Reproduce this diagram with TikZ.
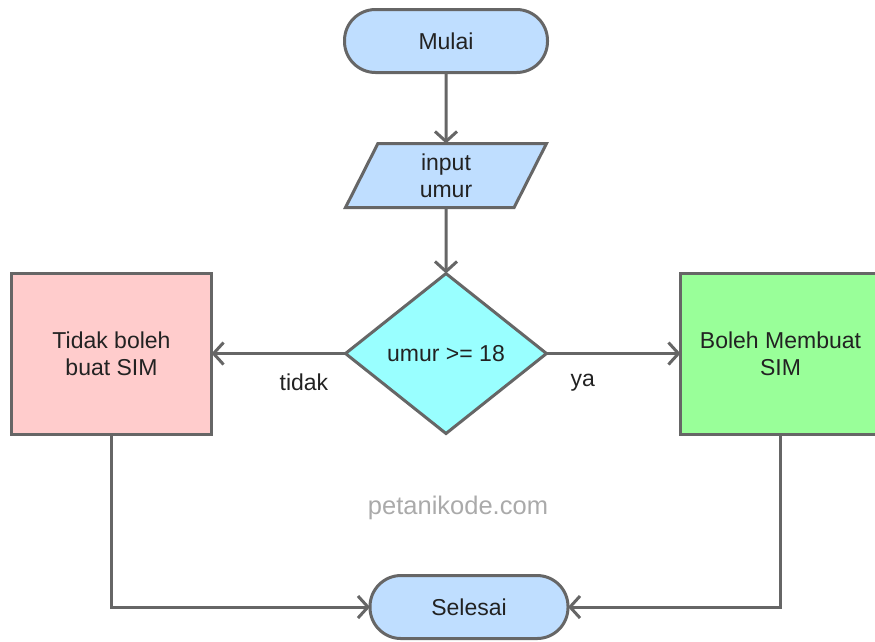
\documentclass[tikz,border=0pt]{standalone}
\usepackage{fontspec}
\setmainfont{Liberation Sans}
\usetikzlibrary{positioning,arrows.meta,shapes.geometric}

\definecolor{termBlue}{RGB}{191,222,255}
\definecolor{decCyan}{RGB}{153,255,255}
\definecolor{noPink}{RGB}{255,204,204}
\definecolor{yesGreen}{RGB}{153,255,153}
\definecolor{lineGray}{RGB}{102,102,102}
\definecolor{txtDark}{RGB}{34,34,34}
\definecolor{markGray}{RGB}{170,170,170}

\begin{document}
\begin{tikzpicture}[
  x=1pt, y=1pt,
  font=\fontsize{23}{27}\selectfont,
  line width=3pt,
  base/.style={
    draw=lineGray, text=txtDark, align=center,
    inner sep=3pt, outer sep=0pt
  },
  term/.style={
    base, rectangle, rounded corners=31pt,
    minimum width=203pt, minimum height=63pt, fill=termBlue
  },
  io/.style={
    base, trapezium, trapezium left angle=57, trapezium right angle=123,
    trapezium stretches body, minimum width=201pt, minimum height=64pt,
    fill=termBlue
  },
  decision/.style={
    base, diamond, minimum width=201pt, minimum height=160pt, fill=decCyan
  },
  proc/.style={
    base, rectangle, minimum width=200pt, minimum height=161pt
  },
  arr/.style={-{Straight Barb[length=10pt,width=22pt]}, draw=lineGray},
  lbl/.style={text=txtDark}
]
\useasboundingbox (0,0) rectangle (875,-641);

\node[term] (mulai) at (446,-41) {Mulai};
\node[io, below=71pt of mulai] (input) {input\\umur};
\node[decision, below=66pt of input] (cek) {umur >= 18};
\node[proc, fill=noPink, left=134pt of cek] (tidakSim) {Tidak boleh\\buat SIM};
\node[proc, fill=yesGreen, right=134pt of cek] (bolehSim) {Boleh Membuat\\SIM};
\node[term, minimum width=198pt, below=142pt of cek, xshift=23pt] (selesai) {Selesai};

\node[text=markGray, font=\fontsize{25.5}{30}\selectfont] (watermark) at (458,-508) {petanikode.com};

\draw[arr] (mulai) -- (input);
\draw[arr] (input) -- (cek);
\draw[arr] (cek) -- node[lbl, pos=0.31, yshift=-29pt] {tidak} (tidakSim);
\draw[arr] (cek) -- node[lbl, pos=0.27, yshift=-29pt] {ya} (bolehSim);
\draw[arr] (tidakSim.south) |- (selesai.west);
\draw[arr] (bolehSim.south) |- (selesai.east);

\end{tikzpicture}
\end{document}
